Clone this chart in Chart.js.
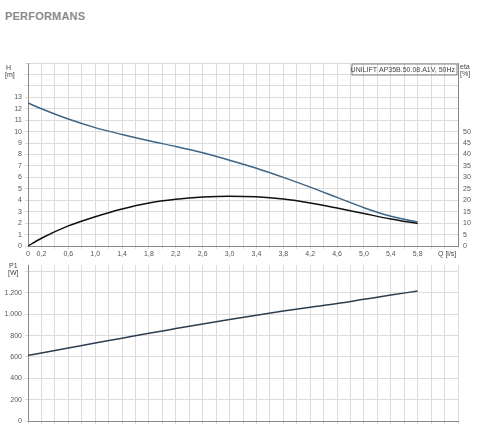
<!DOCTYPE html><html><head><script src="https://cdn.jsdelivr.net/npm/chart.js"></script>
<style>body{margin:0;width:480px;height:438px;background:#fff;position:relative;overflow:hidden;font-family:"Liberation Sans",Arial,sans-serif}
#t{position:absolute;left:5px;top:10px;font:bold 11px "Liberation Sans Narrow","Liberation Sans",sans-serif;color:#8a8a8a;letter-spacing:0.2px}
canvas{position:absolute;left:0}</style></head><body>
<div id="t">PERFORMANS</div>
<div style="position:absolute;left:0;top:55px;width:480px;height:205px"><canvas id="c1"></canvas></div>
<div style="position:absolute;left:0;top:258px;width:480px;height:172px"><canvas id="c2"></canvas></div>
<script>
const Q=[0,0.2,0.6,1.0,1.4,1.8,2.2,2.6,3.0,3.4,3.8,4.2,4.6,5.0,5.4,5.8];
const H=[12.5,12.0,11.1,10.35,9.75,9.2,8.7,8.15,7.5,6.8,6.0,5.15,4.25,3.35,2.6,2.1];
const ETA=[0,3.4,8.8,12.8,16.2,18.8,20.4,21.4,21.8,21.5,20.5,18.8,16.6,14.2,11.8,9.8];
const P1=[615,638,684,730,776,822,866,910,952,992,1030,1066,1100,1140,1180,1218];
const HTICKS=[0,1,2,3,4,5,6,7,8,9,10,11,12,13];
const ETATICKS=[0,5,10,15,20,25,30,35,40,45,50];
const PTICKS=[0,200,400,600,800,1000,1200];
const font={family:"Liberation Sans",size:7};
const tc='#555',gc='#dcdcdc';
const pts=(ys)=>Q.map((q,i)=>({x:q,y:ys[i]}));
const fmt=v=>v.toLocaleString('de-DE');
function xLab(v){v=Math.round(v*10)/10;if(v===0)return '0';if(v>5.85)return '';const r=Math.round((v-0.2)*10)%4;return r===0?v.toFixed(1).replace('.',','):'';}
const text={id:'tx',afterDraw(c,a,o){const x=c.ctx;x.save();x.font='7px "Liberation Sans"';x.fillStyle='#444';
 (o.items||[]).forEach(t=>{x.textAlign=t.al||'left';x.fillText(t.s,t.x,t.y);});
 if(o.box){const ca=c.chartArea;x.strokeStyle='#666';x.lineWidth=0.8;x.strokeRect(ca.right-106,ca.top+1,105,11);x.textAlign='right';x.fillText(o.box,ca.right-3,ca.top+9);}
 x.restore();}};
new Chart(c1,{type:'scatter',data:{datasets:[
 {data:pts(H),showLine:true,borderColor:'#3d6585',borderWidth:1.5,pointRadius:0,cubicInterpolationMode:'monotone',yAxisID:'y'},
 {data:pts(ETA),showLine:true,borderColor:'#111',borderWidth:1.5,pointRadius:0,cubicInterpolationMode:'monotone',yAxisID:'y2'}]},
 options:{responsive:true,maintainAspectRatio:false,animation:false,layout:{padding:{top:8}},
 plugins:{legend:{display:false},tooltip:{enabled:false},tx:{box:'UNILIFT AP35B.50.08.A1V, 50Hz',items:[{s:'H',x:6,y:15},{s:'[m]',x:5,y:22},{s:'eta',x:460,y:14},{s:'[%]',x:460,y:21},{s:'Q [l/s]',x:438,y:201}]}},
 scales:{x:{type:'linear',min:0,max:6.4,afterFit:s=>{s.height=14},ticks:{stepSize:0.2,autoSkip:false,maxRotation:0,font,color:tc,padding:1,callback:xLab},grid:{color:gc,tickLength:3},border:{color:'#888'}},
 y:{min:0,max:16,afterFit:s=>{s.width=28},afterBuildTicks:s=>{s.ticks=[...HTICKS,14,15,16].map(v=>({value:v}))},ticks:{font,color:tc,padding:3,callback:v=>v<=13?v:''},grid:{color:gc,tickLength:3},border:{color:'#888'}},
 y2:{position:'right',min:0,max:80,afterFit:s=>{s.width=22},afterBuildTicks:s=>{s.ticks=ETATICKS.map(v=>({value:v}))},ticks:{font,color:tc,padding:2},grid:{display:false,drawOnChartArea:false,tickLength:3},border:{color:'#888'}}}},plugins:[text]});
new Chart(c2,{type:'scatter',data:{datasets:[
 {data:pts(P1),showLine:true,borderColor:'#2c3e52',borderWidth:1.5,pointRadius:0,cubicInterpolationMode:'monotone'}]},
 options:{responsive:true,maintainAspectRatio:false,animation:false,layout:{padding:{top:4,right:22,bottom:6}},
 plugins:{legend:{display:false},tooltip:{enabled:false},tx:{items:[{s:'P1',x:9,y:10},{s:'[W]',x:8,y:17}]}},
 scales:{x:{type:'linear',min:0,max:6.4,afterFit:s=>{s.height=3},ticks:{display:false,stepSize:0.2},grid:{color:gc,tickLength:3},border:{color:'#888'}},
 y:{min:0,max:1460,afterFit:s=>{s.width=28},afterBuildTicks:s=>{s.ticks=[...PTICKS,1400].map(v=>({value:v}))},ticks:{font,color:tc,padding:3,callback:v=>v<=1200?fmt(v):''},grid:{color:gc,tickLength:3},border:{color:'#888'}}}},plugins:[text]});
</script></body></html>
